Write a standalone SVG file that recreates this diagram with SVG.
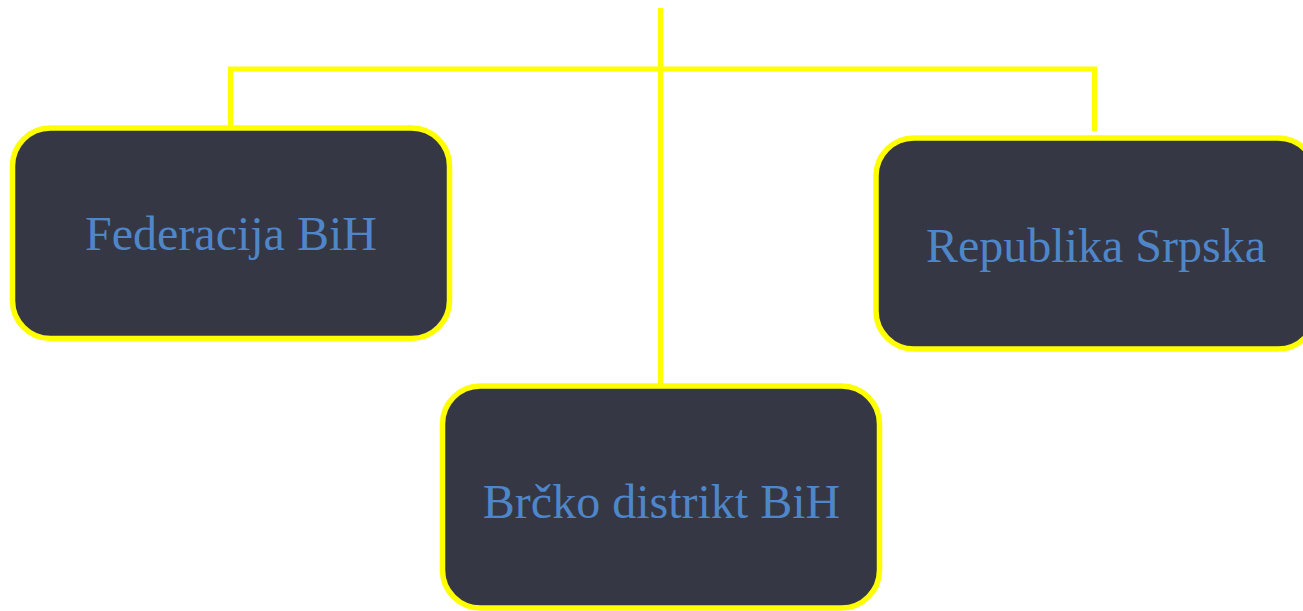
<svg xmlns="http://www.w3.org/2000/svg" width="1303" height="611" viewBox="0 0 1303 611">
<style>
.box{fill:#353744;stroke:#ffff00;stroke-width:5.5}
.lbl{font-family:"Liberation Serif","Times New Roman",serif;font-size:48px;fill:#4f86c9;text-anchor:middle}
.conn{fill:none;stroke:#ffff00;stroke-width:5}
</style>
<rect width="1303" height="611" fill="#ffffff"/>
<g id="connectors">
<path class="conn" d="M230.5,126 V69 H1094.5 V131"/>
<path class="conn" d="M660.5,8 V384"/>
</g>
<g id="node-federacija">
<rect class="box" x="12.5" y="128" width="437" height="210.5" rx="38" ry="38"/>
<text class="lbl" x="231" y="250">Federacija BiH</text>
</g>
<g id="node-republika">
<rect class="box" x="876" y="138" width="440" height="211" rx="38" ry="38"/>
<text class="lbl" x="1096" y="262">Republika Srpska</text>
</g>
<g id="node-brcko">
<rect class="box" x="442.5" y="386" width="437" height="222" rx="38" ry="38"/>
<text class="lbl" x="661.5" y="518">Brčko distrikt BiH</text>
</g>
</svg>
